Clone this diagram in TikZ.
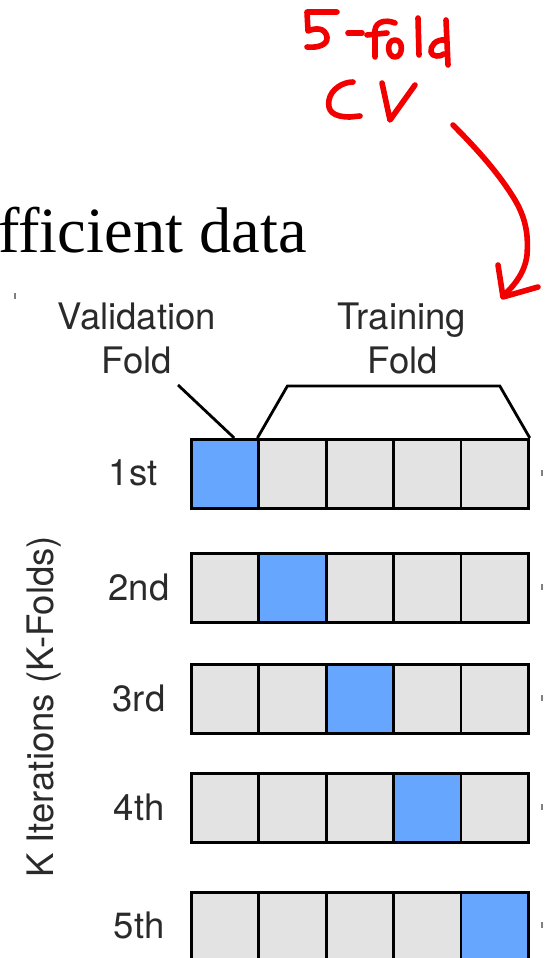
\documentclass[tikz,border=0pt]{standalone}
\usepackage{fontspec}
\setmainfont{Liberation Serif}
\setsansfont{TeX Gyre Heros}
\usetikzlibrary{calc}
\definecolor{foldgray}{HTML}{E3E3E3}
\definecolor{foldblue}{HTML}{66A6FF}
\definecolor{labelgray}{HTML}{2A2A2A}
\definecolor{penred}{HTML}{F20000}
\begin{document}
\begin{tikzpicture}[x=1pt,y=-1pt,
  cell/.style={draw=black,line width=2.8pt,fill=foldgray,minimum width=67.4pt,minimum height=69pt,inner sep=0pt,anchor=north west},
  valcell/.style={cell,fill=foldblue},
  lbl/.style={font=\sffamily\fontsize{36.5}{40}\selectfont,text=labelgray,inner sep=0pt},
  bracket/.style={line width=2.8pt,line join=miter},
  pen/.style={penred,line width=5.6pt,line cap=round,line join=round},
  stub/.style={draw=gray,line width=1.2pt}]
\useasboundingbox (0,0) rectangle (547,958);

% heading fragment
\node[font=\fontsize{64.5}{70}\selectfont,anchor=base west,inner sep=0pt] (title) at (-2,252) {fficient data};

% five iterations, each a row of five folds
\foreach \r/\y in {1/438,2/552,3/663,4/772,5/891}{
  \foreach \c in {1,...,5}{
    \pgfmathsetmacro{\xx}{190+(\c-1)*67.4}
    \ifnum\c=\r
      \node[valcell] (c\r\c) at (\xx,\y) {};
    \else
      \node[cell] (c\r\c) at (\xx,\y) {};
    \fi
  }
}

% iteration labels
\node[lbl] (it1) at (133,472.5) {1st};
\node[lbl] (it2) at (139,587) {2nd};
\node[lbl] (it3) at (139,698) {3rd};
\node[lbl] (it4) at (139,807) {4th};
\node[lbl] (it5) at (139,925) {5th};

\node[lbl,rotate=90] (kiter) at (44,707) {K Iterations (K-Folds)};

% fold headings
\node[lbl,anchor=base] (val1) at (137,329) {Validation};
\node[lbl,anchor=base] (val2) at (137,373) {Fold};
\node[lbl,anchor=base] (tr1) at (402,329) {Training};
\node[lbl,anchor=base] (tr2) at (403,373) {Fold};

% pointer to the validation fold and bracket over the training folds
\coordinate (vp) at (178,385);
\draw[bracket] (vp) -- ($(c11.north west)!0.63!(c11.north east)$);
\draw[bracket] (c12.north west) -- ++(30,-52) -- ($(c15.north east)+(-30,-52)$) -- (c15.north east);

% clipped marks along the edges
\draw[stub] (15,293) -- (15,299);
\foreach \y in {473,587,698,807,925}{
  \draw[stub] (542,\y-3) -- (542,\y+3);
}

% handwritten note: 5-fold CV
% 5
\draw[pen] (337,12) -- (307,12) -- (308,31) .. controls (315,28) and (325,27) .. (327,37) .. controls (328,45) and (318,48) .. (307,47);
% -
\draw[pen] (348,33) -- (362,33);
% f
\draw[pen] (375,57) -- (375,30) .. controls (376,22) and (385,19) .. (395,23);
\draw[pen] (367,35) -- (387,33);
% o
\draw[pen] (395,40) .. controls (386,40) and (387,57) .. (395,57) .. controls (403,57) and (404,40) .. (395,40);
% l
\draw[pen] (418,18) -- (419,55);
% d
\draw[pen] (445,40) .. controls (436,39) and (430,46) .. (431,52) .. controls (432,57) and (440,57) .. (444,54);
\draw[pen] (446,20) -- (448,65);
% C
\draw[pen] (353,82) .. controls (343,82) and (331,89) .. (329,100) .. controls (327,111) and (333,117) .. (350,117) -- (360,116);
% V
\draw[pen] (382,83) -- (390,120) -- (415,85);
% arrow
\draw[pen] (453,125) .. controls (478,150) and (500,175) .. (515,200) .. controls (528,222) and (528,240) .. (527,255) .. controls (525,272) and (515,285) .. (503,296);
\draw[pen] (498,265) -- (503,297) -- (538,287);
\end{tikzpicture}
\end{document}
